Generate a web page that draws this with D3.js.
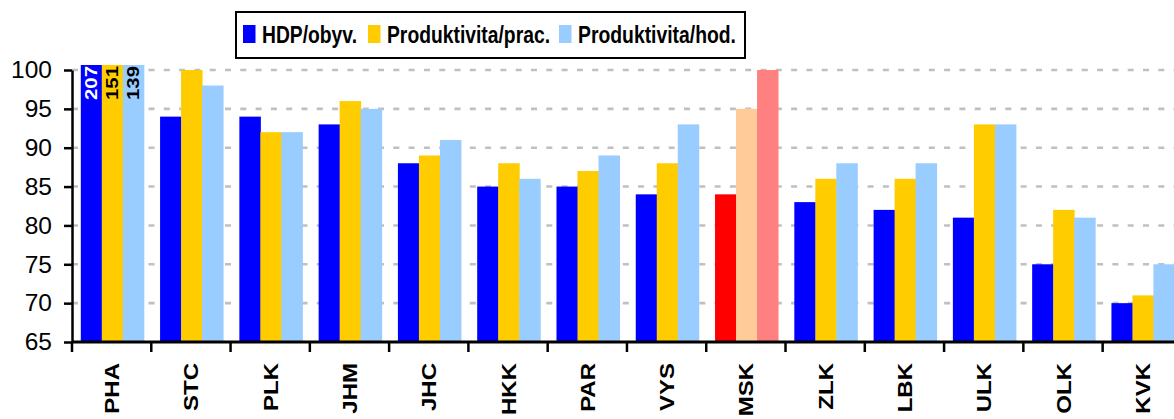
<!DOCTYPE html>
<html>
<head>
<meta charset="utf-8">
<script src="https://cdn.jsdelivr.net/npm/d3@7"></script>
<style>
  body { margin: 0; background: #fff; }
  svg { display: block; font-family: "Liberation Sans", Arial, sans-serif; }
</style>
</head>
<body>
<div id="chart"></div>
<script>
// data
const regions = ['PHA', 'STC', 'PLK', 'JHM', 'JHC', 'HKK', 'PAR', 'VYS', 'MSK', 'ZLK', 'LBK', 'ULK', 'OLK', 'KVK'];
const seriesNames = ['HDP/obyv.', 'Produktivita/prac.', 'Produktivita/hod.'];
const hdp = [207, 94, 94, 93, 88, 85, 85, 84, 84, 83, 82, 81, 75, 70];
const prodPrac = [151, 100, 92, 96, 89, 88, 87, 88, 95, 86, 86, 93, 82, 71];
const prodHod = [139, 98, 92, 95, 91, 86, 89, 93, 100, 88, 88, 93, 81, 75];
const yTicks = [65, 70, 75, 80, 85, 90, 95, 100];

const COLORS = ['#0000ff', '#ffcc00', '#99ccff'];
const HIGHLIGHT = ['#ff0000', '#ffcc99', '#ff8080'];  // MSK

// constants
const WIDTH = 1174, HEIGHT = 419;
const LEFT = 72, BOTTOM = 342, TOP_AXIS = 70, PLOT_TOP = 65;
const STEP = 79.28;

const svg = d3.select('#chart').append('svg')
    .attr('width', WIDTH)
    .attr('height', HEIGHT);

const rows = regions.map((r, i) => ({region: r, values: [hdp[i], prodPrac[i], prodHod[i]]}));

const x0 = d3.scaleBand()
    .domain(regions)
    .range([LEFT, LEFT + STEP * regions.length]);

const x1 = d3.scaleBand()
    .domain(d3.range(3))
    .range([8.8, 8.8 + 63]);

const y = d3.scaleLinear()
    .domain([65, 100])
    .range([BOTTOM, TOP_AXIS]);

// gridlines
svg.append('g')
    .selectAll('line')
    .data(yTicks.filter(t => t > 65))
    .enter()
    .append('line')
    .attr('x1', LEFT)
    .attr('x2', WIDTH)
    .attr('y1', d => y(d))
    .attr('y2', d => y(d))
    .attr('stroke', '#c0c0c0')
    .attr('stroke-width', 2.6)
    .attr('stroke-dasharray', '6,9.3');

// bars
const groups = svg.append('g')
    .selectAll('g')
    .data(rows)
    .enter()
    .append('g')
    .attr('transform', d => 'translate(' + x0(d.region) + ',0)');

groups.selectAll('rect')
    .data(d => d.values.map((v, k) => ({region: d.region, v: v, k: k})))
    .enter()
    .append('rect')
    .attr('x', d => x1(d.k))
    .attr('width', x1.bandwidth() + 0.5)
    .attr('y', d => Math.max(y(d.v), PLOT_TOP))
    .attr('height', d => BOTTOM - Math.max(y(d.v), PLOT_TOP))
    .attr('fill', d => d.region === 'MSK' ? HIGHLIGHT[d.k] : COLORS[d.k]);

// labels on clipped bars
groups.filter(d => d.values.some(v => y(v) < PLOT_TOP))
    .selectAll('text')
    .data(d => d.values.map((v, k) => ({v: v, k: k})).filter(d => y(d.v) < PLOT_TOP))
    .enter()
    .append('text')
    .attr('transform', d => 'translate(' + (x1(d.k) + x1.bandwidth() / 2 + 6) + ',' + (PLOT_TOP + 1) + ') rotate(-90)')
    .attr('text-anchor', 'end')
    .attr('font-size', '16px')
    .attr('font-weight', 'bold')
    .attr('textLength', 34)
    .attr('lengthAdjust', 'spacingAndGlyphs')
    .attr('fill', d => d.k === 0 ? '#fff' : '#000')
    .text(d => d.v);

// y axis
const yAxis = svg.append('g')
    .attr('transform', 'translate(' + LEFT + ',0)')
    .call(d3.axisLeft(y).tickValues(yTicks).tickSize(8).tickSizeOuter(0).tickPadding(12));
yAxis.select('.domain').attr('stroke-width', 2.5);
yAxis.selectAll('.tick line').attr('stroke-width', 2.5);
yAxis.selectAll('.tick text')
    .attr('font-size', '24.5px')
    .attr('font-family', '"Liberation Sans", Arial, sans-serif')
    .attr('fill', '#000');

// x axis
svg.append('line')
    .attr('x1', LEFT)
    .attr('x2', WIDTH)
    .attr('y1', BOTTOM)
    .attr('y2', BOTTOM)
    .attr('stroke', '#000')
    .attr('stroke-width', 2.8);

svg.append('g')
    .selectAll('line')
    .data(regions)
    .enter()
    .append('line')
    .attr('x1', d => x0(d))
    .attr('x2', d => x0(d))
    .attr('y1', BOTTOM)
    .attr('y2', BOTTOM + 10)
    .attr('stroke', '#000')
    .attr('stroke-width', 2.5);

// category labels, stretched along their length like the original
svg.append('g')
    .selectAll('text')
    .data(regions)
    .enter()
    .append('text')
    .attr('transform', d => 'translate(' + (x0(d) + x0.bandwidth() / 2 + 7.5) + ',363) rotate(-90) scale(1.2,1)')
    .attr('text-anchor', 'end')
    .attr('font-size', '20px')
    .attr('font-weight', 'bold')
    .text(d => d);

// legend
const legend = svg.append('g');
legend.append('rect')
    .attr('x', 236)
    .attr('y', 12)
    .attr('width', 509)
    .attr('height', 46)
    .attr('fill', '#fff')
    .attr('stroke', '#000')
    .attr('stroke-width', 2);

const legendX = [243, 368, 559];
const legendW = [95, 163, 158];
seriesNames.forEach((name, i) => {
    legend.append('rect')
        .attr('x', legendX[i])
        .attr('y', 25)
        .attr('width', 12.5)
        .attr('height', 18)
        .attr('fill', COLORS[i]);
    legend.append('text')
        .attr('x', legendX[i] + 19)
        .attr('y', 43)
        .attr('font-size', '23px')
        .attr('font-weight', 'bold')
        .attr('textLength', legendW[i])
        .attr('lengthAdjust', 'spacingAndGlyphs')
        .text(name);
});
</script>
</body>
</html>
